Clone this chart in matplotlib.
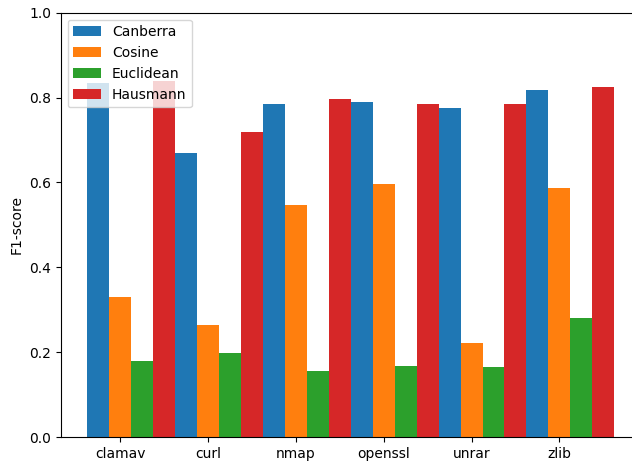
import numpy as np
import matplotlib
matplotlib.use("Agg")
import matplotlib.pyplot as plt

projects = ["clamav", "curl", "nmap", "openssl", "unrar", "zlib"]
canberra = [0.835, 0.669, 0.784, 0.789, 0.776, 0.817]
cosine = [0.331, 0.265, 0.548, 0.596, 0.222, 0.588]
euclidean = [0.180, 0.199, 0.156, 0.168, 0.166, 0.281]
hausmann = [0.839, 0.718, 0.796, 0.784, 0.784, 0.825]

x = np.arange(len(projects))
w = 0.25

fig = plt.figure(figsize=(6.32, 4.62), dpi=100)
# axes runs a bit past the right edge, like the original crop
ax = fig.add_axes([60.7/632, 24.8/462, 580/632, 424.6/462])
ax.bar(x - w, canberra, w, label="Canberra")
ax.bar(x, cosine, w, label="Cosine")
ax.bar(x + w, euclidean, w, label="Euclidean")
ax.bar(x + 2*w, hausmann, w, label="Hausmann")
ax.set_xticks(x)
ax.set_xticklabels(projects)
ax.set_ylim(0, 1.0)
ax.set_ylabel("F1-score")
ax.legend(loc="upper left")

fig.savefig("out.png", dpi=100)
